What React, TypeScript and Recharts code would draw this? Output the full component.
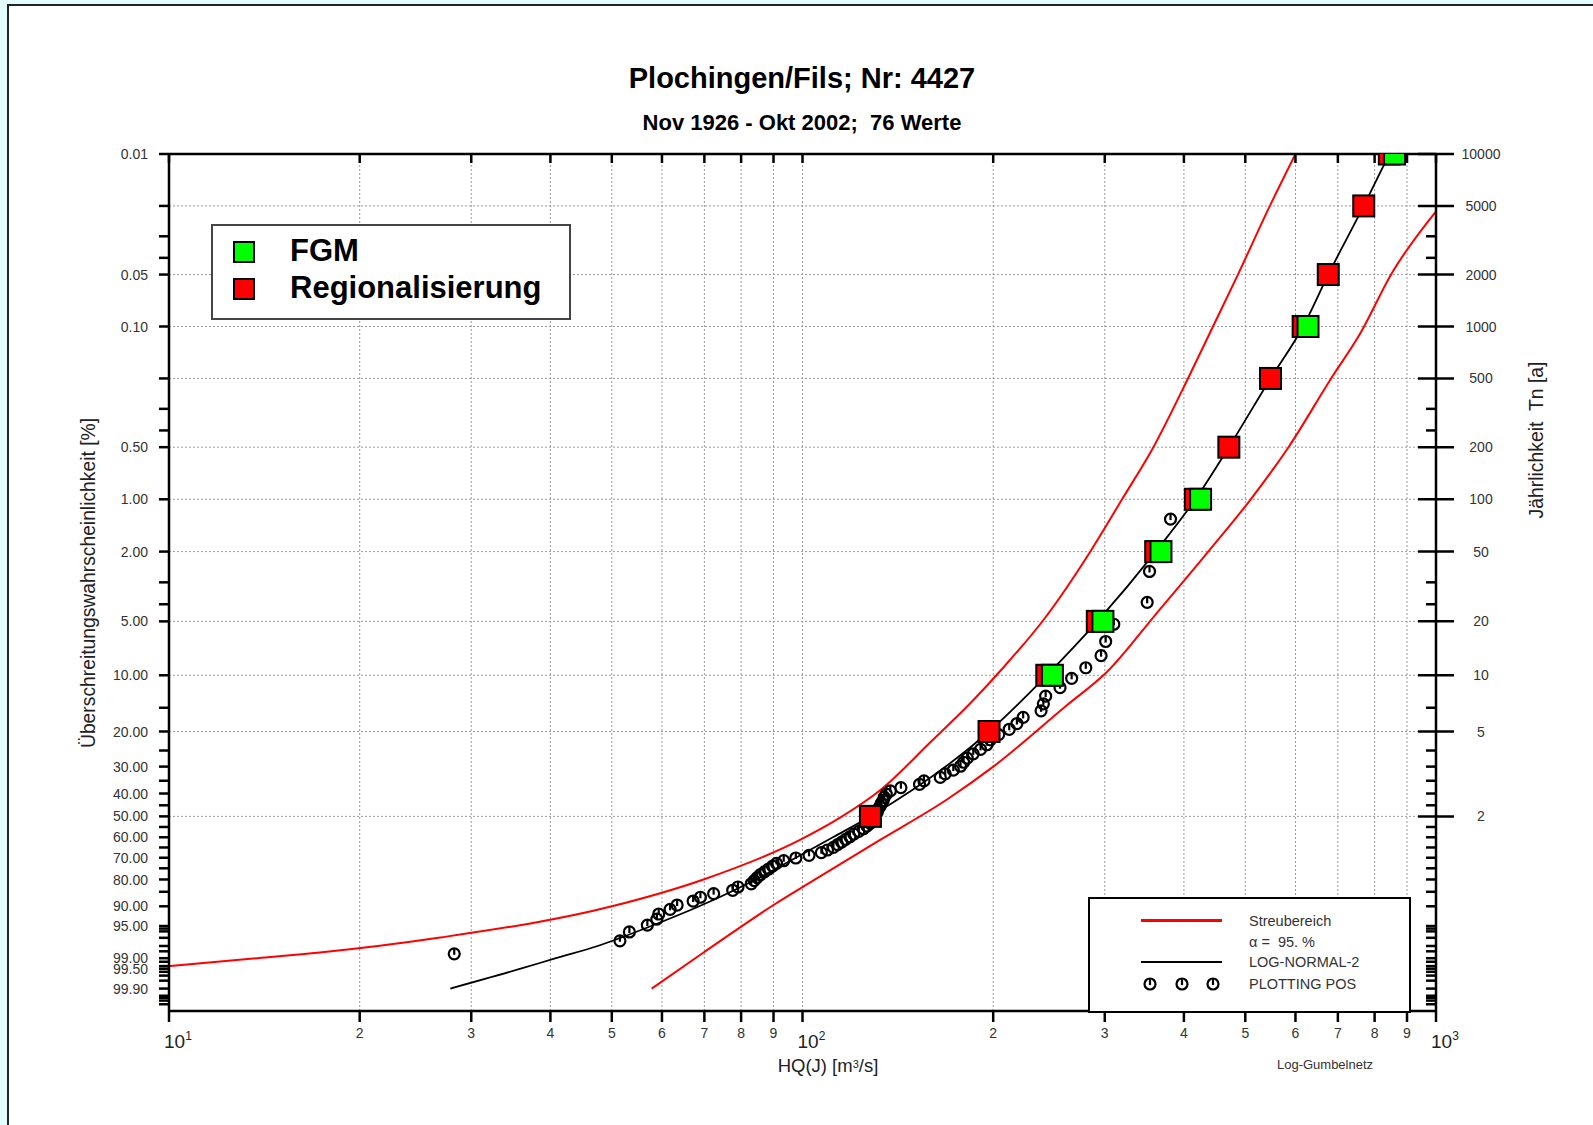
import React from 'react';
import { ComposedChart, Line, Scatter, XAxis, YAxis, ReferenceLine } from 'recharts';

const W = 1593;
const H = 1125;
const FONT = '"Liberation Sans", Arial, Helvetica, sans-serif';

// plotting positions: exceedance probability [%] and HQ [m3/s], largest first
const plotPct = [
  1.3, 2.6, 3.9, 5.19, 6.49, 7.79, 9.09, 10.39, 11.69, 12.99, 14.29, 15.58, 16.88, 18.18, 19.48, 20.78,
  22.08, 23.38, 24.68, 25.97, 27.27, 28.57, 29.87, 31.17, 32.47, 33.77, 35.06, 36.36, 37.66, 38.96, 40.26,
  41.56, 42.86, 44.16, 45.45, 46.75, 48.05, 49.35, 50.65, 51.95, 53.25, 54.55, 55.84, 57.14, 58.44, 59.74,
  61.04, 62.34, 63.64, 64.94, 66.23, 67.53, 68.83, 70.13, 71.43, 72.73, 74.03, 75.32, 76.62, 77.92, 79.22,
  80.52, 81.82, 83.12, 84.42, 85.71, 87.01, 88.31, 89.61, 90.91, 92.21, 93.51, 94.81, 96.1, 97.4, 98.7,
];
const plotQ = [
  381, 353, 350, 310, 301, 296, 280, 266, 255, 242, 240, 238, 223, 218, 212, 204,
  198, 195.5, 191, 186, 182, 179.6, 177.6, 173, 168, 165, 155.5, 153, 143, 137.6, 135.6,
  134.6, 134.1, 133.1, 132.6, 131.6, 131.2, 130.2, 129.7, 129.2, 127.9, 126.4, 124.8, 122.7, 120.5, 118.8,
  117, 115.3, 113.6, 111.9, 109.5, 107.1, 102.4, 97.6, 93.4, 91, 89.7, 88.4, 87.1, 85.8, 84.8,
  83.9, 83, 79.1, 77.6, 72.4, 69, 67.2, 63.4, 61.8, 59.3, 58.9, 56.9, 53.3, 51.5, 28.2,
];

const fgmPct = [0.01, 0.1, 1, 2, 5, 10];
const fgmQ = [860, 628, 425, 368, 298, 248];

const regPct = [0.01, 0.02, 0.05, 0.1, 0.2, 0.5, 1, 2, 5, 10, 20, 50];
const regQ = [844, 769, 676, 617, 548, 471, 417, 361, 292, 243, 197, 128];

// LOG-NORMAL-2
const lnPct = [99.9, 99.5, 99, 98, 95, 90, 80, 70, 60, 50, 20, 10, 5, 2, 1, 0.5, 0.2, 0.1, 0.05, 0.02, 0.01];
const lnQ = [27.8, 35.9, 40.8, 47.5, 57.7, 68.7, 84.4, 97.6, 111.7, 128, 197, 243, 292, 361, 417, 471, 548, 617, 676, 769, 844];

// Streubereich alpha = 95 %
const upPct = [99.4, 99, 98.6, 96.96, 89.93, 80, 61.3, 50.5, 38.7, 22.8, 13.6, 9.5, 4.88, 1.99, 1, 0.5, 0.2, 0.1, 0.05, 0.02, 0.01];
const upQ = [10, 13.8, 17.3, 26.8, 50.2, 69.8, 99.1, 114.8, 132.6, 159, 186.3, 205, 240.4, 284.9, 319.5, 358, 406, 444.6, 486.8, 546.7, 600];
const loPct = [99.9, 98.6, 89.6, 80, 61.3, 42.4, 30.1, 14.5, 9.6, 4.5, 2, 1, 0.5, 0.2, 0.109, 0.049, 0.0215];
const loQ = [57.8, 69.8, 90, 104.7, 132.6, 169.3, 199.8, 261.7, 302.3, 362.2, 437, 510, 585, 683, 760, 852, 1000];

// axes
const probTicks = [
  0.01, 0.02, 0.03, 0.04, 0.05, 0.1, 0.2, 0.3, 0.4, 0.5, 1, 2, 3, 4, 5, 10, 15, 20, 25, 30, 35, 40, 45, 50,
  55, 60, 65, 70, 75, 80, 85, 90, 95, 95.5, 96, 97, 98, 98.5, 99, 99.2, 99.4, 99.5, 99.6, 99.7, 99.8, 99.9,
  99.95, 99.96, 99.97, 99.98,
];
const probLabeled = [0.01, 0.05, 0.1, 0.5, 1, 2, 5, 10, 20, 30, 40, 50, 60, 70, 80, 90, 95, 99, 99.5, 99.9];
const returnPeriods = [10000, 5000, 2000, 1000, 500, 200, 100, 50, 20, 10, 5, 2];
const xTicks = [10, 20, 30, 40, 50, 60, 70, 80, 90, 100, 200, 300, 400, 500, 600, 700, 800, 900, 1000];

// Gumbel reduced variate of the exceedance probability
const gum = (pct: number) => -Math.log(-Math.log(1 - pct / 100));
const pctOf = (g: number) => 100 * (1 - Math.exp(-Math.exp(-g)));
const nearest = (list: number[], v: number) =>
  list.reduce((a, b) => (Math.abs(b - v) < Math.abs(a - v) ? b : a));

const toPts = (pct: number[], q: number[]) => pct.map((p, i) => ({ x: q[i], y: gum(p) }));

const plotData = toPts(plotPct, plotQ);
const fgmData = toPts(fgmPct, fgmQ);
const regData = toPts(regPct, regQ);
const lnData = toPts(lnPct, lnQ).sort((a, b) => a.x - b.x);
const upData = toPts(upPct, upQ).sort((a, b) => a.x - b.x);
const loData = toPts(loPct, loQ).sort((a, b) => a.x - b.x);

const yTicks = probTicks.map(gum);
const yDomain = [-2.232, gum(0.01)];

const LeftTick = ({ x, y, payload }: any) => {
  const p = nearest(probTicks, pctOf(payload.value));
  const lab = probLabeled.includes(p) ? p.toFixed(2) : '';
  return (
    <g>
      <line x1={x - 10} x2={x} y1={y} y2={y} stroke="#000" strokeWidth={2.5} />
      {lab && (
        <text x={x - 21} y={y} dy="0.36em" textAnchor="end" fontSize={14} fill="#333" fontFamily={FONT}>
          {lab}
        </text>
      )}
    </g>
  );
};

const RightTick = ({ x, y, payload }: any) => {
  const p = nearest(probTicks, pctOf(payload.value));
  const t = returnPeriods.find((r) => Math.abs(100 / r - p) < 1e-9);
  return (
    <g>
      {t ? (
        <line x1={x - 18} x2={x + 18} y1={y} y2={y} stroke="#000" strokeWidth={2.5} />
      ) : (
        <line x1={x - 10} x2={x} y1={y} y2={y} stroke="#000" strokeWidth={2.5} />
      )}
      {t && (
        <text x={x + 45} y={y} dy="0.36em" textAnchor="middle" fontSize={14} fill="#333" fontFamily={FONT}>
          {t}
        </text>
      )}
    </g>
  );
};

const BottomTick = ({ x, y, payload }: any) => {
  const v = payload.value;
  const e = Math.floor(Math.log10(v) + 1e-9);
  const digit = Math.round(v / 10 ** e);
  return (
    <g>
      <line x1={x} x2={x} y1={y} y2={y + 11} stroke="#000" strokeWidth={2.5} />
      {digit === 1 ? (
        <text x={x - 5} y={y + 37} fontSize={19} fill="#222" fontFamily={FONT}>
          10
          <tspan fontSize={12} dy={-8}>
            {e}
          </tspan>
        </text>
      ) : (
        <text x={x} y={y + 27} textAnchor="middle" fontSize={14} fill="#333" fontFamily={FONT}>
          {digit}
        </text>
      )}
    </g>
  );
};

const TopTick = ({ x, y }: any) => (
  <line x1={x} x2={x} y1={y} y2={y + 9} stroke="#000" strokeWidth={2.5} />
);

const PlotMark = ({ cx, cy }: any) => (
  <g>
    <circle cx={cx} cy={cy} r={5.5} fill="none" stroke="#000" strokeWidth={2.2} />
    <line x1={cx} x2={cx} y1={cy - 5.5} y2={cy + 1} stroke="#000" strokeWidth={2.2} />
  </g>
);

const square = (fill: string) => ({ cx, cy }: any) => (
  <rect x={cx - 10.5} y={cy - 10.5} width={21} height={21} fill={fill} stroke="#000" strokeWidth={2} />
);

const abs = (s: React.CSSProperties): React.CSSProperties => ({ position: 'absolute', ...s });

const Glyph = ({ left, top }: { left: number; top: number }) => (
  <svg style={abs({ left: left - 8, top: top - 8 })} width={16} height={16}>
    <PlotMark cx={8} cy={8} />
  </svg>
);

export default function App() {
  return (
    <div style={abs({ left: 0, top: 0, width: W, height: H, background: '#e2fdfd', fontFamily: FONT, overflow: 'hidden' })}>
      <div style={abs({ left: 7, top: 4, right: 0, bottom: 0, background: '#fff', borderLeft: '2px solid #222', borderTop: '2px solid #222' })} />

      <ComposedChart width={W} height={H} margin={{ top: 134, right: 0, bottom: 0, left: 0 }} style={abs({ left: 0, top: 0 })}>
        <XAxis
          xAxisId="b"
          dataKey="x"
          type="number"
          scale="log"
          domain={[10, 1000]}
          allowDataOverflow
          ticks={xTicks}
          interval={0}
          height={114}
          tickSize={0}
          tickMargin={0}
          tickLine={false}
          tick={<BottomTick />}
          axisLine={{ stroke: '#000', strokeWidth: 2.5 }}
        />
        <XAxis
          xAxisId="t"
          orientation="top"
          dataKey="x"
          type="number"
          scale="log"
          domain={[10, 1000]}
          allowDataOverflow
          ticks={xTicks}
          interval={0}
          height={20}
          tickSize={0}
          tickMargin={0}
          tickLine={false}
          tick={<TopTick />}
          axisLine={{ stroke: '#000', strokeWidth: 2.5 }}
        />
        <YAxis
          yAxisId="l"
          dataKey="y"
          type="number"
          domain={yDomain}
          allowDataOverflow
          ticks={yTicks}
          interval={0}
          width={169}
          tickSize={0}
          tickMargin={0}
          tickLine={false}
          tick={<LeftTick />}
          axisLine={{ stroke: '#000', strokeWidth: 2.5 }}
        />
        <YAxis
          yAxisId="r"
          orientation="right"
          type="number"
          domain={yDomain}
          allowDataOverflow
          ticks={yTicks}
          interval={0}
          width={157}
          tickSize={0}
          tickMargin={0}
          tickLine={false}
          tick={<RightTick />}
          axisLine={{ stroke: '#000', strokeWidth: 2.5 }}
        />

        {xTicks.slice(1, -1).map((v) => (
          <ReferenceLine key={`vx${v}`} x={v} xAxisId="b" yAxisId="l" stroke="#9a9a9a" strokeWidth={1} strokeDasharray="2 2" />
        ))}
        {returnPeriods.slice(1).map((t) => (
          <ReferenceLine key={`hy${t}`} y={gum(100 / t)} xAxisId="b" yAxisId="l" stroke="#9a9a9a" strokeWidth={1} strokeDasharray="2 2" />
        ))}

        <Line data={upData} dataKey="y" xAxisId="b" yAxisId="l" type="monotone" stroke="#ff0000" strokeWidth={2} dot={false} isAnimationActive={false} />
        <Line data={loData} dataKey="y" xAxisId="b" yAxisId="l" type="monotone" stroke="#ff0000" strokeWidth={2} dot={false} isAnimationActive={false} />
        <Line data={lnData} dataKey="y" xAxisId="b" yAxisId="l" type="monotone" stroke="#000" strokeWidth={1.8} dot={false} isAnimationActive={false} />

        <Scatter data={plotData} xAxisId="b" yAxisId="l" shape={<PlotMark />} isAnimationActive={false} />
        <Scatter data={regData} xAxisId="b" yAxisId="l" shape={square('#ff0000')} isAnimationActive={false} />
        <Scatter data={fgmData} xAxisId="b" yAxisId="l" shape={square('#00ff00')} isAnimationActive={false} />
      </ComposedChart>

      {/* titles */}
      <div style={abs({ left: 402, top: 61, width: 800, textAlign: 'center', fontSize: 29, lineHeight: '34px', fontWeight: 'bold', color: '#000' })}>
        Plochingen/Fils; Nr: 4427
      </div>
      <div style={abs({ left: 402, top: 110, width: 800, textAlign: 'center', fontSize: 22, lineHeight: '26px', fontWeight: 'bold', color: '#000' })}>
        Nov 1926 - Okt 2002;&nbsp; 76 Werte
      </div>

      {/* axis titles */}
      <div style={abs({ left: 89 - 250, top: 583 - 12, width: 500, height: 24, lineHeight: '24px', textAlign: 'center', fontSize: 19.3, color: '#222', transform: 'rotate(-90deg)' })}>
        Überschreitungswahrscheinlichkeit [%]
      </div>
      <div style={abs({ left: 1536 - 150, top: 440 - 12, width: 300, height: 24, lineHeight: '24px', textAlign: 'center', fontSize: 19.4, color: '#222', transform: 'rotate(-90deg)', whiteSpace: 'pre' })}>
        {'Jährlichkeit  Tn [a]'}
      </div>
      <div style={abs({ left: 828 - 150, top: 1054, width: 300, textAlign: 'center', fontSize: 18.5, lineHeight: '24px', color: '#222' })}>
        HQ(J) [m<sup style={{ fontSize: 11, verticalAlign: 'top', position: 'relative', top: -2 }}>3</sup>/s]
      </div>
      <div style={abs({ left: 1325 - 100, top: 1057, width: 200, textAlign: 'center', fontSize: 13, lineHeight: '16px', color: '#333' })}>
        Log-Gumbelnetz
      </div>

      {/* legend: FGM / Regionalisierung */}
      <div style={abs({ left: 211, top: 224, width: 356, height: 92, background: '#fff', border: '2px solid #444' })} />
      <div style={abs({ left: 233, top: 241, width: 18, height: 18, background: '#00ff00', border: '2px solid #000', boxSizing: 'content-box' })} />
      <div style={abs({ left: 233, top: 278, width: 18, height: 18, background: '#ff0000', border: '2px solid #000', boxSizing: 'content-box' })} />
      <div style={abs({ left: 290, top: 233, fontSize: 31, lineHeight: '36px', fontWeight: 'bold', color: '#000' })}>FGM</div>
      <div style={abs({ left: 290, top: 270, fontSize: 31, lineHeight: '36px', fontWeight: 'bold', color: '#000' })}>Regionalisierung</div>

      {/* legend: Streubereich etc. */}
      <div style={abs({ left: 1088, top: 897, width: 319, height: 112, background: '#fff', border: '2px solid #000' })} />
      <div style={abs({ left: 1141, top: 919, width: 81, height: 2.5, background: '#ff0000' })} />
      <div style={abs({ left: 1141, top: 961, width: 81, height: 2, background: '#000' })} />
      <Glyph left={1150} top={984} />
      <Glyph left={1182} top={984} />
      <Glyph left={1213} top={984} />
      {[
        ['Streubereich', 920.5],
        ['\u03b1 =  95. %', 942],
        ['LOG-NORMAL-2', 962],
        ['PLOTTING POS', 983.5],
      ].map(([s, cy]) => (
        <div key={s as string} style={abs({ left: 1249, top: (cy as number) - 9, fontSize: 14.5, lineHeight: '18px', color: '#333', whiteSpace: 'pre' })}>
          {s}
        </div>
      ))}
    </div>
  );
}
